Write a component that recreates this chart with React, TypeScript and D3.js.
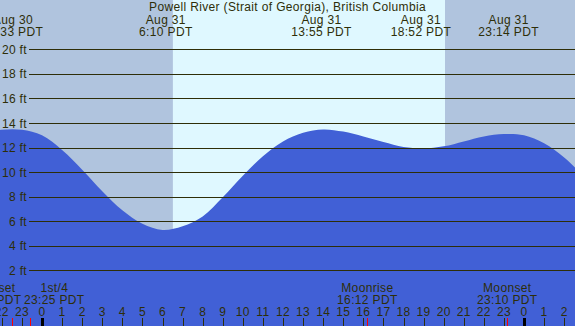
import React, { useRef, useEffect } from "react";
import * as d3 from "d3";

// tide height (ft), hourly, hour 0 = Aug 31 00:00 PDT
const tideHours = [-3, -2, -1, 0, 1, 2, 3, 4, 5, 6, 7, 8, 9, 10, 11, 12, 13, 14, 15, 16, 17, 18, 19, 20, 21, 22, 23, 24, 25, 26, 27];
const tideFeet = [13.1, 13.45, 13.45, 13.0, 11.8, 10.2, 8.45, 6.9, 5.8, 5.3, 5.6, 6.4, 7.95, 9.7, 11.3, 12.5, 13.2, 13.48, 13.3, 12.9, 12.45, 12.05, 11.93, 12.1, 12.5, 12.9, 13.1, 13.0, 12.35, 11.2, 9.6];

// highs and lows labelled across the top
const extremeDates = ["Aug 30", "Aug 31", "Aug 31", "Aug 31", "Aug 31"];
const extremeTimes = ["22:33", "6:10", "13:55", "18:52", "23:14"];

// daylight on Aug 31
const sunrise = "6:31";
const sunset = "20:04";

// moon events along the bottom
const moonNames = ["Moonset", "1st/4", "Moonrise", "Moonset"];
const moonDates = ["Aug 30", "Aug 30", "Aug 31", "Aug 31"];
const moonTimes = ["22:31", "23:25", "16:12", "23:10"];

const feetTicks = [2, 4, 6, 8, 10, 12, 14, 16, 18, 20];
const hourTicks = d3.range(-2, 27);

const title = "Powell River (Strait of Georgia), British Columbia";

const toHours = (date: string, time: string) => {
  const [hh, mm] = time.split(":").map(Number);
  return hh + mm / 60 + (date === "Aug 30" ? -24 : date === "Sep 1" ? 24 : 0);
};

const App = () => {
  const svgRef = useRef<SVGSVGElement>(null);

  useEffect(() => {
    const w = 575;
    const h = 326;
    const ink = "#2e2e08";
    const svg = d3
      .select(svgRef.current)
      .attr("width", w)
      .attr("height", h)
      .attr("font-family", "'Liberation Sans', Arial, sans-serif")
      .attr("font-size", 12)
      .attr("letter-spacing", 0.35);
    svg.selectAll("*").remove();

    const x = d3.scaleLinear().domain([0, 24]).range([42, 524]);
    const y = d3.scaleLinear().domain([0, 20]).range([295, 49.3]);

    // night / day background
    svg.append("rect").attr("width", w).attr("height", h).attr("fill", "#b0c4de");
    const dayStart = x(toHours("Aug 31", sunrise));
    const dayEnd = x(toHours("Aug 31", sunset));
    svg
      .append("rect")
      .attr("x", dayStart)
      .attr("width", dayEnd - dayStart)
      .attr("height", h)
      .attr("fill", "#dff8ff");

    // water
    const area = d3
      .area<number>()
      .x((d, i) => x(tideHours[i]))
      .y0(h)
      .y1((d) => y(d))
      .curve(d3.curveCatmullRom.alpha(0.5));
    svg.append("path").attr("d", area(tideFeet)).attr("fill", "#4160d6");

    // height grid
    const grid = svg.append("g").attr("fill", ink);
    feetTicks.forEach((f) => {
      grid
        .append("line")
        .attr("x1", 29)
        .attr("x2", w)
        .attr("y1", Math.round(y(f)) + 0.5)
        .attr("y2", Math.round(y(f)) + 0.5)
        .attr("stroke", ink)
        .attr("stroke-width", 1);
      grid
        .append("text")
        .attr("x", 27)
        .attr("y", y(f) + 4.5)
        .attr("text-anchor", "end")
        .text(`${f} ft`);
    });

    // title and tide times
    svg
      .append("text")
      .attr("x", w / 2)
      .attr("y", 11)
      .attr("text-anchor", "middle")
      .attr("fill", ink)
      .text(title);

    extremeTimes.forEach((t, i) => {
      const cx = x(toHours(extremeDates[i], t));
      const g = svg.append("g").attr("fill", ink).attr("text-anchor", "middle");
      g.append("text").attr("x", cx).attr("y", 24).text(extremeDates[i]);
      g.append("text").attr("x", cx).attr("y", 36).text(`${t} PDT`);
    });

    // hour axis
    const axis = svg.append("g");
    hourTicks.forEach((hr) => {
      const hx = x(hr);
      const midnight = hr % 24 === 0;
      axis
        .append("line")
        .attr("x1", Math.round(hx) + 0.5)
        .attr("x2", Math.round(hx) + 0.5)
        .attr("y1", 318)
        .attr("y2", h)
        .attr("stroke", midnight ? "#000" : ink)
        .attr("stroke-width", midnight ? 3 : 1);
      axis
        .append("text")
        .attr("x", hx)
        .attr("y", 316)
        .attr("text-anchor", "middle")
        .attr("fill", ink)
        .text(((hr % 24) + 24) % 24);
    });

    // moon events, labels nudged apart where they would collide
    const labelShift = [-21, 24, 0, 0];
    moonTimes.forEach((t, i) => {
      const mx = x(toHours(moonDates[i], t));
      axis
        .append("line")
        .attr("x1", Math.round(mx) + 0.5)
        .attr("x2", Math.round(mx) + 0.5)
        .attr("y1", 318)
        .attr("y2", h)
        .attr("stroke", "red")
        .attr("stroke-width", 1);
      const g = axis.append("g").attr("fill", ink).attr("text-anchor", "middle");
      g.append("text").attr("x", mx + labelShift[i]).attr("y", 292).text(moonNames[i]);
      g.append("text").attr("x", mx + labelShift[i]).attr("y", 304).text(`${t} PDT`);
    });
  }, []);

  return (
    <svg ref={svgRef} style={{ position: "absolute", left: 0, top: 0, display: "block" }}></svg>
  );
};

export default App;
